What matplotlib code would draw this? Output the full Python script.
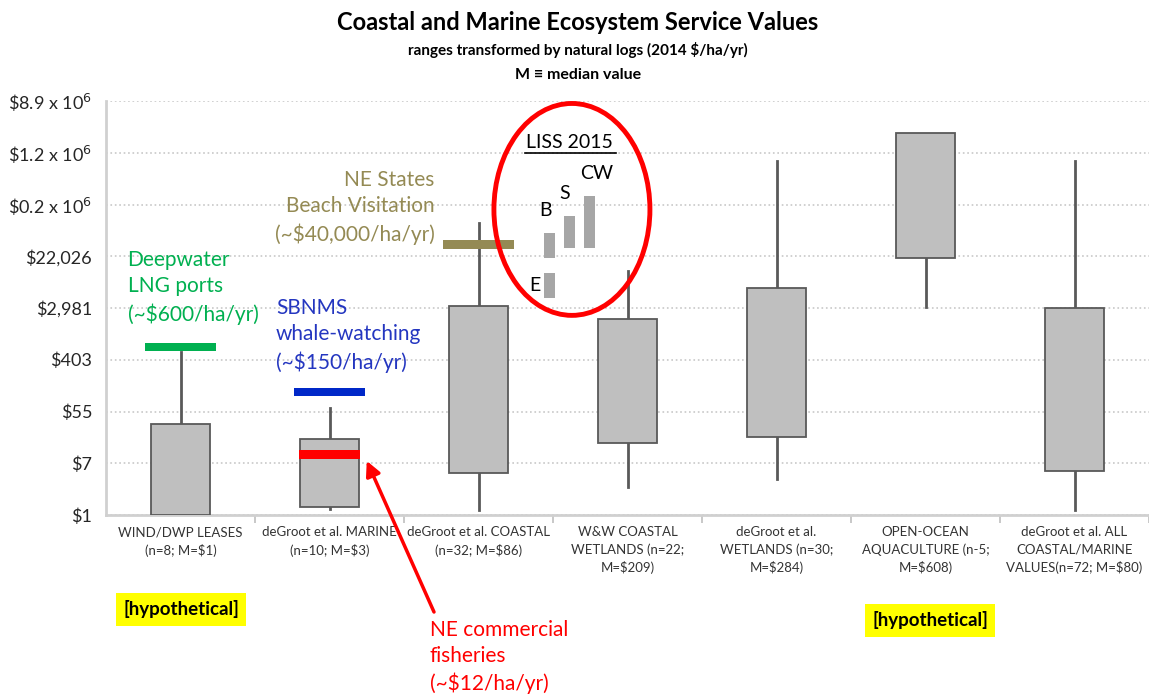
import matplotlib.pyplot as plt
from matplotlib.patches import Ellipse

plt.rcParams['font.family'] = ['Lato', 'DejaVu Sans']

# data (natural-log units of 2014 $/ha/yr)
categories = ['WIND/DWP LEASES\n(n=8; M=$1)',
              'deGroot et al. MARINE\n(n=10; M=$3)',
              'deGroot et al. COASTAL\n(n=32; M=$86)',
              'W&W COASTAL\nWETLANDS (n=22;\nM=$209)',
              'deGroot et al.\nWETLANDS (n=30;\nM=$284)',
              'OPEN-OCEAN\nAQUACULTURE (n-5;\nM=$608)',
              'deGroot et al. ALL\nCOASTAL/MARINE\nVALUES(n=72; M=$80)']
whisker_low = [0.0, 0.22, 0.2, 1.09, 1.39, 8.02, 0.19]
box_low = [0.0, 0.3, 1.61, 2.77, 3.02, 9.94, 1.7]
box_high = [3.5, 2.92, 8.07, 7.58, 8.78, 14.78, 8.0]
whisker_high = [6.3, 4.12, 11.3, 9.42, 13.67, 14.78, 13.67]

tick_vals = [0, 2, 4, 6, 8, 10, 12, 14, 16]
tick_labels = ['\\$1', '\\$7', '\\$55', '\\$403', '\\$2,981', '\\$22,026',
               '\\$0.2 x 10$^6$', '\\$1.2 x 10$^6$', '\\$8.9 x 10$^6$']

# single study values (ln $/ha/yr) drawn as horizontal bars
lng_val = 6.5        # Deepwater LNG ports
whale_val = 4.74     # SBNMS whale-watching
fish_val = 2.34      # NE commercial fisheries
beach_val = 10.45    # NE states beach visitation

# LISS 2015 ranges
liss_names = ['E', 'B', 'S', 'CW']
liss_x = [2.477, 2.477, 2.61, 2.743]
liss_low = [8.39, 9.95, 10.3, 10.3]
liss_high = [9.35, 10.9, 11.56, 12.33]

fig = plt.figure(figsize=(11.49, 6.98), dpi=100)
ax = fig.add_axes([106 / 1149, 1 - 515 / 698, 1043 / 1149, 414 / 698])

xs = range(len(categories))
box_w = 0.4
for x, wl, bl, bh, wh in zip(xs, whisker_low, box_low, box_high, whisker_high):
    ax.plot([x, x], [wl, bl], color='#595959', lw=2, zorder=2)
    ax.plot([x, x], [bh, wh], color='#595959', lw=2, zorder=2)
    ax.bar(x, bh - bl, bottom=bl, width=box_w, color='#BFBFBF',
           edgecolor='#595959', linewidth=1.3, zorder=3)

# study value markers
bar_h = 0.32
ax.bar(0, bar_h, bottom=lng_val - bar_h / 2, width=0.47, color='#00B050', zorder=4)
ax.bar(1, bar_h, bottom=whale_val - bar_h / 2, width=0.47, color='#0028C8', zorder=4)
ax.bar(1, bar_h, bottom=fish_val - bar_h / 2, width=0.41, color='#FF0000', zorder=4)
ax.bar(2, bar_h, bottom=beach_val - bar_h / 2, width=0.47, color='#948A54', zorder=4)

# LISS 2015 inset
ax.bar(liss_x, [h - l for l, h in zip(liss_low, liss_high)], bottom=liss_low,
       width=0.073, color='#A6A6A6', zorder=4)
ax.text(liss_x[0] - 0.1, (liss_low[0] + liss_high[0]) / 2, liss_names[0],
        ha='center', va='center', fontsize=14)
for nx, nh, nm in zip(liss_x[1:], liss_high[1:], liss_names[1:]):
    ax.text(nx - 0.03 + (0.08 if nm == 'CW' else 0), nh + 0.85, nm,
            ha='center', va='center', fontsize=14)
ax.text(2.613, 14.4, 'LISS 2015', ha='center', va='center', fontsize=14)
ax.plot([2.31, 2.925], [13.98, 13.98], color='black', lw=1.2)
ax.add_patch(Ellipse((2.627, 11.81), 1.047, 8.19, fill=False,
                     edgecolor='#FF0000', lw=3.5, zorder=5))

# annotations
ax.text(-0.355, 8.8, 'Deepwater\nLNG ports\n(~$600/ha/yr)', color='#00B050',
        fontsize=15, ha='left', va='center', linespacing=1.4)
ax.text(0.64, 6.95, 'SBNMS\nwhale-watching\n(~$150/ha/yr)', color='#2436C0',
        fontsize=15, ha='left', va='center', linespacing=1.4)
ax.text(1.707, 11.89, 'NE States\nBeach Visitation\n(~$40,000/ha/yr)', color='#948A54',
        fontsize=15, ha='right', va='center', linespacing=1.4)
fig.text(430 / 1149, 1 - 657 / 698, 'NE commercial\nfisheries\n(~$12/ha/yr)',
         color='#FF0000', fontsize=15, ha='left', va='center', linespacing=1.4)
ax.annotate('', xy=(1.25, fish_val - 0.25), xycoords='data',
            xytext=(434 / 1149, 1 - 612 / 698), textcoords='figure fraction',
            arrowprops=dict(arrowstyle='-|>', color='#FF0000', lw=2.5,
                            mutation_scale=22, shrinkA=0, shrinkB=0),
            annotation_clip=False)

for hx, hy in [(181, 609), (930, 620)]:
    fig.text(hx / 1149, 1 - hy / 698, '[hypothetical]', fontsize=13.5, fontweight='bold',
             ha='center', va='center',
             bbox=dict(boxstyle='square,pad=0.4', facecolor='#FFFF00', edgecolor='none'))

# axes styling
ax.set_xlim(-0.5, 6.453)
ax.set_ylim(0, 16)
ax.set_yticks(tick_vals)
ax.set_yticklabels(tick_labels, fontsize=13, color='#262626')
ax.set_xticks(list(xs))
ax.set_xticklabels(categories, fontsize=9.5, color='#333333', linespacing=1.5)
ax.set_xticks([x + 0.5 for x in xs], minor=True)
ax.tick_params(axis='x', which='major', length=0, pad=8)
ax.tick_params(axis='x', which='minor', length=6, color='#BFBFBF', width=1.2)
ax.tick_params(axis='y', length=0, pad=10)
ax.grid(axis='y', linestyle=':', color='#C8C8C8', lw=1.2, zorder=0)
for s in ['top', 'right']:
    ax.spines[s].set_visible(False)
for s in ['left', 'bottom']:
    ax.spines[s].set_color('#D0D0D0')
    ax.spines[s].set_linewidth(2)

fig.text(578 / 1149, 1 - 22 / 698, 'Coastal and Marine Ecosystem Service Values',
         fontsize=17, fontweight='bold', ha='center', va='center')
fig.text(578 / 1149, 1 - 50 / 698, 'ranges transformed by natural logs (2014 $/ha/yr)',
         fontsize=11, fontweight='bold', ha='center', va='center')
fig.text(578 / 1149, 1 - 75 / 698, 'M \u2261 median value',
         fontsize=11.5, fontweight='bold', ha='center', va='center')

fig.savefig('out.png', dpi=100)
